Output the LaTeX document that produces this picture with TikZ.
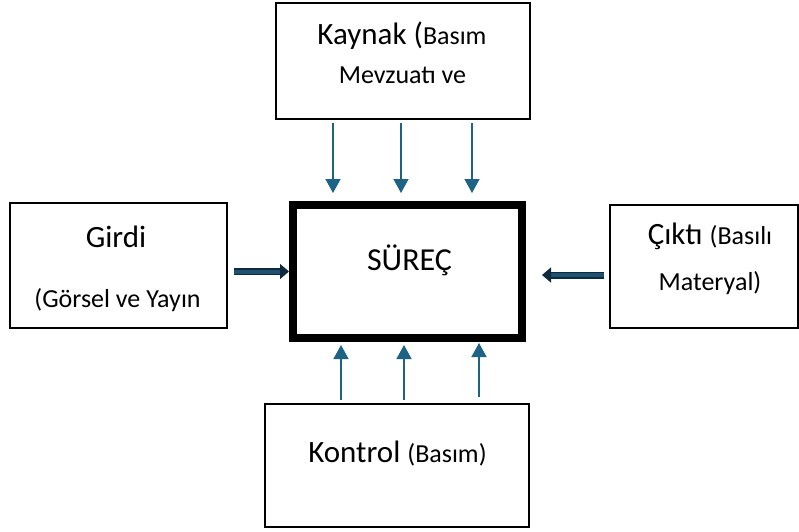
\documentclass[tikz,border=0pt]{standalone}
\usepackage{fontspec}
\setmainfont{Carlito}
\usetikzlibrary{arrows.meta}

\definecolor{okmavi}{RGB}{29,99,133}
\definecolor{koyumavi}{RGB}{14,42,62}
\definecolor{icmavi}{RGB}{31,82,112}
\newcommand\buyukyazi{\fontsize{31}{37}\selectfont}
\newcommand\kucukyazi{\fontsize{26}{31}\selectfont}

\begin{document}
\begin{tikzpicture}
        [x=1pt, y=-1pt,
         kutu/.style={draw, line width=1.8pt, inner sep=0pt},
         anakutu/.style={draw, line width=8pt, inner sep=0pt},
         yazi/.style={anchor=base, inner sep=0pt},
         ince/.style={draw=okmavi, line width=1.4pt, -{Triangle[length=14pt,width=15pt]}},
         kalin/.style={draw=koyumavi, line width=1.5pt, double=icmavi, double distance=4pt,
                       -{Triangle[length=9pt,width=15pt]}}]
        \useasboundingbox (0,0) rectangle (799,531);

        \node [kutu, minimum width=254pt, minimum height=116pt] (kaynak) at (403,61) {};
        \node [kutu, minimum width=217pt, minimum height=125pt] (girdi) at (118.5,265.5) {};
        \node [anakutu, minimum width=229pt, minimum height=133pt] (surec) at (407.5,271.5) {};
        \node [kutu, minimum width=188pt, minimum height=123pt] (cikti) at (704,266.5) {};
        \node [kutu, minimum width=264pt, minimum height=123pt] (kontrol) at (397,465.5) {};

        \node [yazi] (kaynak1) at (402,44) {\buyukyazi Kaynak (\kucukyazi Basım};
        \node [yazi] (kaynak2) at (402.5,83) {\kucukyazi Mevzuatı ve};
        \node [yazi] (girdi1) at (116,247) {\buyukyazi Girdi};
        \node [yazi] (girdi2) at (117.5,307) {\kucukyazi (Görsel ve Yayın};
        \node [yazi] (surec1) at (409.5,270) {\fontsize{32}{38}\selectfont SÜREÇ};
        \node [yazi] (cikti1) at (710,244) {\buyukyazi Çıktı \kucukyazi(Basılı};
        \node [yazi] (cikti2) at (710,290) {\kucukyazi Materyal)};
        \node [yazi] (kontrol1) at (397.5,462) {\buyukyazi Kontrol \kucukyazi(Basım)};

        \draw [ince] ([xshift=-70pt, yshift=-3pt]kaynak.south) -- ([xshift=-74.5pt, yshift=8pt]surec.north);
        \draw [ince] ([xshift=-2pt, yshift=-3pt]kaynak.south) -- ([xshift=-6.5pt, yshift=8pt]surec.north);
        \draw [ince] ([xshift=69pt, yshift=-3pt]kaynak.south) -- ([xshift=64.5pt, yshift=8pt]surec.north);

        \draw [ince] ([xshift=-56pt, yshift=3pt]kontrol.north) -- ([xshift=-66.5pt, yshift=-3pt]surec.south);
        \draw [ince] ([xshift=7pt, yshift=3pt]kontrol.north) -- ([xshift=-3.5pt, yshift=-3pt]surec.south);
        \draw [ince] ([xshift=82pt, yshift=6pt]kontrol.north) -- ([xshift=71.5pt, yshift=-1pt]surec.south);

        \draw [kalin, shorten <=6pt] (girdi.east |- surec.west) -- (surec.west);
        \draw [kalin, shorten <=5pt, shorten >=16pt] ([yshift=-8.5pt]cikti.west) -- ([yshift=-3.5pt]surec.east);
    \end{tikzpicture}
\end{document}
